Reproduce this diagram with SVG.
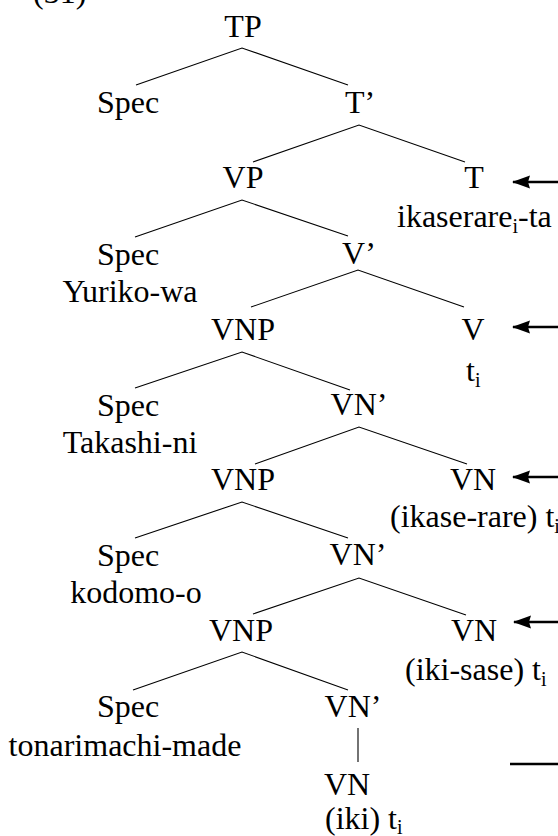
<svg xmlns="http://www.w3.org/2000/svg" width="558" height="836" viewBox="0 0 558 836">
  <style>
    text { font-family: "Liberation Serif", "Times New Roman", serif; font-size: 32px; fill: #000; }
    .c { text-anchor: middle; }
    .sub { font-size: 20px; }
    .edge { stroke: #000; stroke-width: 1.1; fill: none; }
    .ptr { stroke: #000; stroke-width: 2.5; fill: none; }
  </style>
  <defs>
    <!-- solid arrowhead, tip at the end of the line -->
    <marker id="head" markerUnits="userSpaceOnUse" markerWidth="18" markerHeight="14" refX="17" refY="7" orient="auto" viewBox="0 0 18 14">
      <path d="M0,0.5 L18,7 L0,13.5 L2,7 Z" fill="#000"/>
    </marker>
  </defs>

  <text x="33" y="3">(31)</text>

  <!-- tree branches -->
  <g id="connectors">
    <path class="edge" d="M136,85 L242,48 L348,85"/>
    <path class="edge" d="M253,162 L359,125 L465,162"/>
    <path class="edge" d="M135,237 L242,200 L348,236"/>
    <path class="edge" d="M251,307 L358,270 L464,307"/>
    <path class="edge" d="M135,388 L242,352 L350,390"/>
    <path class="edge" d="M255,464 L359,427 L467,464"/>
    <path class="edge" d="M135,538 L242,502 L348,538"/>
    <path class="edge" d="M253,614 L359,578 L466,615"/>
    <path class="edge" d="M133,690 L242,652 L348,690"/>
    <path class="edge" d="M358,728 L358,762"/>
    <!-- head-movement pointers -->
    <line class="ptr" x1="560" y1="182" x2="513" y2="182" marker-end="url(#head)"/>
    <line class="ptr" x1="560" y1="327" x2="513" y2="327" marker-end="url(#head)"/>
    <line class="ptr" x1="560" y1="477" x2="513" y2="477" marker-end="url(#head)"/>
    <line class="ptr" x1="560" y1="622" x2="514" y2="622" marker-end="url(#head)"/>
    <line class="ptr" x1="510" y1="764" x2="560" y2="764"/>
  </g>

  <g id="TP"><text class="c" x="243" y="37">TP</text></g>
  <g id="Spec-TP"><text class="c" x="128" y="113">Spec</text></g>
  <g id="T-bar"><text class="c" x="360" y="113">T’</text></g>
  <g id="VP"><text class="c" x="243" y="188">VP</text></g>
  <g id="T">
    <text class="c" x="474" y="188">T</text>
    <text x="397" y="227">ikaserare<tspan class="sub" dy="6">i</tspan><tspan dy="-6">-ta</tspan></text>
  </g>
  <g id="Spec-VP">
    <text class="c" x="128" y="265">Spec</text>
    <text class="c" x="130" y="302">Yuriko-wa</text>
  </g>
  <g id="V-bar"><text class="c" x="359" y="264">V’</text></g>
  <g id="VNP1"><text class="c" x="243" y="340">VNP</text></g>
  <g id="V">
    <text class="c" x="473" y="340">V</text>
    <text x="466" y="381">t<tspan class="sub" dy="6">i</tspan></text>
  </g>
  <g id="Spec-VNP1">
    <text class="c" x="128" y="416">Spec</text>
    <text class="c" x="130" y="453">Takashi-ni</text>
  </g>
  <g id="VN-bar1"><text class="c" x="359" y="415">VN’</text></g>
  <g id="VNP2"><text class="c" x="243" y="490">VNP</text></g>
  <g id="VN1">
    <text class="c" x="473" y="490">VN</text>
    <text x="390" y="527">(ikase-rare) t<tspan class="sub" dy="6">i</tspan></text>
  </g>
  <g id="Spec-VNP2">
    <text class="c" x="128" y="566">Spec</text>
    <text class="c" x="136" y="603">kodomo-o</text>
  </g>
  <g id="VN-bar2"><text class="c" x="358" y="565">VN’</text></g>
  <g id="VNP3"><text class="c" x="241" y="641">VNP</text></g>
  <g id="VN2">
    <text class="c" x="474" y="641">VN</text>
    <text x="405" y="680">(iki-sase) t<tspan class="sub" dy="6">i</tspan></text>
  </g>
  <g id="Spec-VNP3">
    <text class="c" x="128" y="717">Spec</text>
    <text class="c" x="125" y="756">tonarimachi-made</text>
  </g>
  <g id="VN-bar3"><text class="c" x="353" y="717">VN’</text></g>
  <g id="VN3">
    <text class="c" x="347" y="795">VN</text>
    <text x="325" y="829">(iki) t<tspan class="sub" dy="5">i</tspan></text>
  </g>
</svg>
